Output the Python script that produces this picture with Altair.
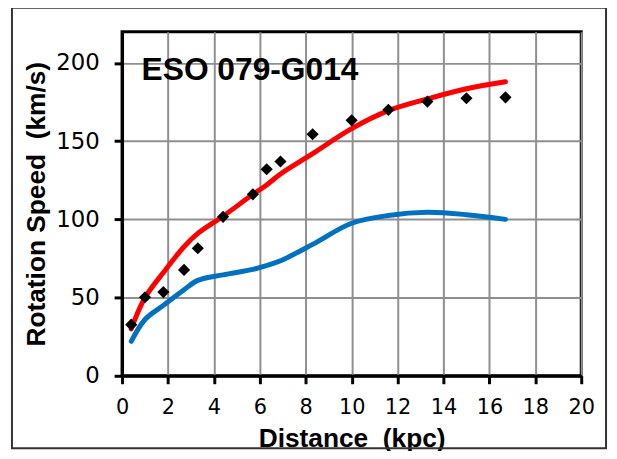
import altair as alt
import pandas as pd

# Data
radius = [0.4, 1.0, 1.8, 2.7, 3.3, 4.4, 5.7, 6.3, 6.9, 8.3, 10.0, 11.6, 13.3, 15.0, 16.7]
observed = [32.7, 50.2, 53.5, 67.7, 81.5, 101.6, 116.0, 132.0, 137.0, 154.4, 163.3, 170.0, 175.3, 177.4, 178.0]
model_total = [30, 50, 66, 82.5, 91, 102, 116, 122, 129, 142, 158, 169.5, 177, 183.5, 188]
model_disk = [22, 36, 45, 55, 61, 64.5, 68, 70.5, 73.5, 84, 97.5, 102.5, 104.5, 103, 100]

label_text = ["ESO 079-G014"]
label_x = [0.85]
label_y = [188.8]

x_ticks = list(range(0, 21, 2))
y_ticks = [0, 50, 100, 150, 200]

df = pd.DataFrame({"r": radius, "obs": observed, "total": model_total, "disk": model_disk})
lab = pd.DataFrame({"x": label_x, "y": label_y, "t": label_text})
frame = pd.DataFrame({"k": [0]})

xscale = alt.Scale(domain=[0, 20], nice=False, zero=False)
yscale = alt.Scale(domain=[0, 220], nice=False)

common = dict(
    labelFont="DejaVu Sans", labelColor="black", labelFlush=False,
    titleFont="Liberation Sans", titleFontSize=26.5, titleFontWeight="bold", titleColor="black",
    titleBaseline="alphabetic", titleAlign="center",
    gridColor="#8f8f8f", gridWidth=2,
    domainColor="black", domainWidth=3,
    tickColor="black", tickWidth=3, tickSize=8,
)

xaxis = alt.Axis(values=x_ticks, format="d", title="Distance \u00a0(kpc)",
                 labelFontSize=21, labelPadding=13, titleY=71, titleX=231.5, **common)
yaxis = alt.Axis(values=y_ticks, format="d", title="Rotation Speed \u00a0(km/s)",
                 labelFontSize=23, labelPadding=15, titleAngle=270, titleX=-78, titleY=173.5, **common)

X = alt.X("r:Q", scale=xscale, axis=xaxis)

line_total = alt.Chart(df).mark_line(color="#FF0000", strokeWidth=5, interpolate="catmull-rom",
                                     strokeCap="round").encode(
    x=X, y=alt.Y("total:Q", scale=yscale, axis=yaxis))
line_disk = alt.Chart(df).mark_line(color="#0070C0", strokeWidth=5, interpolate="catmull-rom",
                                    strokeCap="round").encode(
    x=X, y=alt.Y("disk:Q", scale=yscale, axis=yaxis))
points = alt.Chart(df).mark_point(shape="diamond", filled=True, color="black", size=150,
                                  opacity=1).encode(
    x=X, y=alt.Y("obs:Q", scale=yscale, axis=yaxis))
text = alt.Chart(lab).mark_text(font="Liberation Sans", fontSize=32, fontWeight="bold",
                                align="left", baseline="alphabetic", color="black").encode(
    x=alt.X("x:Q", scale=xscale, axis=xaxis),
    y=alt.Y("y:Q", scale=yscale, axis=yaxis),
    text="t:N")
border = alt.Chart(frame).mark_rect(filled=False, fill="transparent", stroke="#333333",
                                    strokeWidth=2, clip=False).encode(
    x=alt.value(-111), x2=alt.value(488), y=alt.value(-24), y2=alt.value(420))

chart = alt.layer(border, line_disk, line_total, points, text).properties(
    width=463, height=347,
    autosize=alt.AutoSizeParams(type="none"),
    padding={"left": 115, "top": 22, "right": 28, "bottom": 74},
    background="white",
).configure_view(
    stroke="black", strokeWidth=3
)

chart.save("out.html", embed_options={"renderer": "svg", "actions": False})
